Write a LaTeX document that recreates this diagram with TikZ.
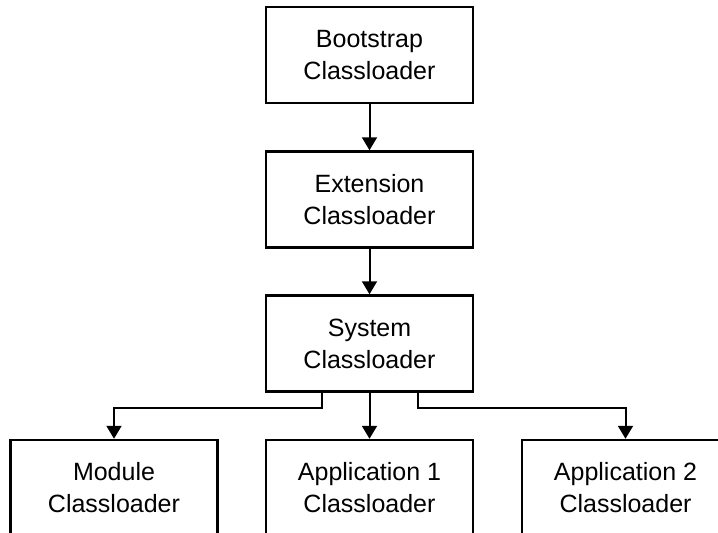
\documentclass[tikz,border=0pt]{standalone}
\usepackage{fontspec}
\setmainfont{Liberation Sans}
\usetikzlibrary{arrows.meta}
\begin{document}
\begin{tikzpicture}[x=1pt,y=-1pt,
  loader/.style={draw=black, line width=2.5pt, rectangle,
    minimum width=207pt, minimum height=96pt, inner sep=0pt,
    align=center, font=\fontsize{25}{32}\selectfont},
  link/.style={line width=2pt, -{Triangle[width=15pt,length=13pt]}}]
  \clip (0,0) rectangle (718,533);
  \fill[white] (0,0) rectangle (718,533);

  % loader hierarchy
  \node[loader] (boot) at (369.5,55)    {Bootstrap\\Classloader};
  \node[loader] (ext)  at (369.5,199.5) {Extension\\Classloader};
  \node[loader] (sys)  at (369.5,343.5) {System\\Classloader};
  \node[loader] (mod)  at (114,488)     {Module\\Classloader};
  \node[loader] (app1) at (369.5,488)   {Application 1\\Classloader};
  \node[loader] (app2) at (625.5,488)   {Application 2\\Classloader};

  % parent-to-child delegation
  \draw[link] (boot) -- (ext);
  \draw[link] (ext) -- (sys);
  \draw[link] (sys) -- (app1);
  \draw[link] ([xshift=-47.5pt]sys.south) -- ++(0,15) -| (mod.north);
  \draw[link] ([xshift=48.5pt]sys.south) -- ++(0,15) -| (app2.north);
\end{tikzpicture}
\end{document}
